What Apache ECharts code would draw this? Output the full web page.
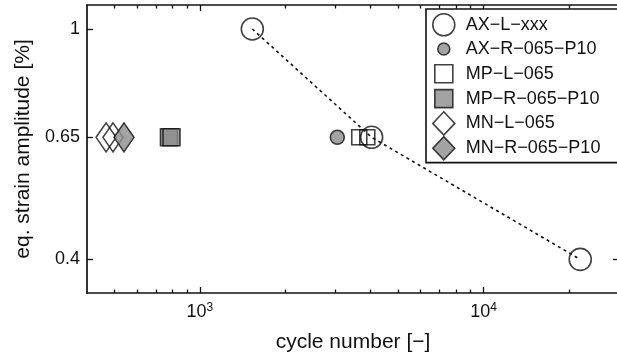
<!DOCTYPE html>
<html><head><meta charset="utf-8">
<script src="https://cdn.jsdelivr.net/npm/echarts@6/dist/echarts.min.js"></script>
<style>html,body{margin:0;padding:0;background:#fff}#c{width:617px;height:361px}</style>
</head><body><div id="c"></div>
<script>
const seriesNames = ['AX−L−xxx', 'AX−R−065−P10', 'MP−L−065', 'MP−R−065−P10', 'MN−L−065', 'MN−R−065−P10'];
const axLCycles = [1530, 4030, 21900];
const axLStrain = [1, 0.65, 0.4];
const axRCycles = [3050];
const axRStrain = [0.65];
const mpLCycles = [3645, 3890];
const mpLStrain = [0.65, 0.65];
const mpRCycles = [778, 794];
const mpRStrain = [0.65, 0.65];
const mnLCycles = [467, 494];
const mnLStrain = [0.65, 0.65];
const mnRCycles = [540];
const mnRStrain = [0.65];
const xMajorTicks = [1000, 10000];
const xMinorTicks = [500, 600, 700, 800, 900, 2000, 3000, 4000, 5000, 6000, 7000, 8000, 9000, 20000, 30000];
const yTicks = [0.4, 0.65, 1];
const xName = 'cycle number [−]';
const yName = 'eq. strain amplitude [%]';

const FONT = 'Liberation Sans';
const INK = '#111';
const TXT = '#111';
const GRAY = '#8c8c8c';
const zip = (a, b) => a.map((v, i) => [v, b[i]]);

const chart = echarts.init(document.getElementById('c'), null, {renderer: 'canvas'});
const lineAx = {show: true, onZero: false, lineStyle: {color: INK, width: 1.7}};
const noLine = {show: false, onZero: false};
const xBase = {type: 'log', logBase: 10, min: 400, max: 30000, gridIndex: 0, splitLine: {show: false}};
const yBase = {type: 'log', logBase: 10, min: 0.35, max: 1.1, gridIndex: 0, splitLine: {show: false}};
const tickStyle = {color: INK, width: 1.3};

const open = {color: 'rgba(255,255,255,0)', borderColor: INK, borderWidth: 1.6};
const filled = {color: GRAY, borderColor: INK, borderWidth: 1.6};

chart.setOption({
  animation: false,
  backgroundColor: '#fff',
  textStyle: {fontFamily: FONT},
  grid: {left: 87, top: 5, width: 532, height: 288, outerBoundsMode: 'none', containLabel: false},
  xAxis: [
    Object.assign({}, xBase, {
      position: 'bottom', axisLine: lineAx,
      axisTick: {inside: true, length: 6, lineStyle: tickStyle, customValues: xMajorTicks},
      axisLabel: {margin: 9, customValues: xMajorTicks,
        formatter: v => '{a|10}{b|' + Math.round(Math.log10(v)) + '}',
        rich: {a: {fontSize: 18, color: TXT, fontFamily: FONT, lineHeight: 20},
               b: {fontSize: 12, color: TXT, fontFamily: FONT, verticalAlign: 'top', lineHeight: 12}}},
      name: xName, nameLocation: 'middle', nameGap: 39,
      nameTextStyle: {fontSize: 21, color: TXT, fontFamily: FONT, verticalAlign: 'top'}
    }),
    Object.assign({}, xBase, {
      position: 'bottom', axisLine: noLine,
      axisTick: {inside: true, length: 3.5, lineStyle: tickStyle, customValues: xMinorTicks},
      axisLabel: {show: false}
    }),
    Object.assign({}, xBase, {
      position: 'top', axisLine: lineAx,
      axisTick: {inside: true, length: 6, lineStyle: tickStyle, customValues: xMajorTicks},
      axisLabel: {show: false}
    }),
    Object.assign({}, xBase, {
      position: 'top', axisLine: noLine,
      axisTick: {inside: true, length: 3.5, lineStyle: tickStyle, customValues: xMinorTicks},
      axisLabel: {show: false}
    })
  ],
  yAxis: [
    Object.assign({}, yBase, {
      position: 'left', axisLine: lineAx,
      axisTick: {inside: true, length: 6, lineStyle: tickStyle, customValues: yTicks},
      axisLabel: {margin: 7, fontSize: 18, color: TXT, fontFamily: FONT, customValues: yTicks,
        formatter: v => String(+v.toFixed(2))},
      name: yName, nameLocation: 'middle', nameGap: 52, nameRotate: 90,
      nameTextStyle: {fontSize: 21, color: TXT, fontFamily: FONT}
    }),
    Object.assign({}, yBase, {
      position: 'right', axisLine: lineAx,
      axisTick: {inside: true, length: 6, lineStyle: tickStyle, customValues: yTicks},
      axisLabel: {show: false}
    })
  ],
  legend: {
    orient: 'vertical', left: 426, top: 9,
    padding: [4, 19, 2, 6],
    itemWidth: 22, itemHeight: 23.2, itemGap: 0,
    backgroundColor: '#fff', borderColor: INK, borderWidth: 1.6, borderRadius: 0,
    selectedMode: false,
    textStyle: {fontSize: 18, color: TXT, fontFamily: FONT, padding: [0, 0, 0, 6]},
    itemStyle: {borderWidth: 1.6},
    data: [
      {name: seriesNames[0], icon: 'circle'},
      {name: seriesNames[1], icon: 'path://M0,0M22,23.2M5,11.6a6,6 0 1,0 12,0a6,6 0 1,0 -12,0z'},
      {name: seriesNames[2], icon: 'path://M0,0M22,23.2M2,2.6h18v18h-18z'},
      {name: seriesNames[3], icon: 'path://M0,0M22,23.2M2,2.6h18v18h-18z'},
      {name: seriesNames[4], icon: 'diamond'},
      {name: seriesNames[5], icon: 'diamond'}
    ]
  },
  series: [
    {type: 'line', xAxisIndex: 0, yAxisIndex: 0, data: zip(axLCycles, axLStrain), symbol: 'none',
     lineStyle: {color: INK, width: 1.6, type: [3, 3.5]}, z: 1, silent: true},
    {type: 'scatter', name: seriesNames[0], data: zip(axLCycles, axLStrain), symbol: 'circle', symbolSize: 22, itemStyle: open, z: 3},
    {type: 'scatter', name: seriesNames[1], data: zip(axRCycles, axRStrain), symbol: 'circle', symbolSize: 14, itemStyle: filled, z: 3},
    {type: 'scatter', name: seriesNames[2], data: zip(mpLCycles, mpLStrain), symbol: 'rect', symbolSize: 15, itemStyle: open, z: 3},
    {type: 'scatter', name: seriesNames[3], data: zip(mpRCycles, mpRStrain), symbol: 'rect', symbolSize: 17, itemStyle: filled, z: 3},
    {type: 'scatter', name: seriesNames[4], data: zip(mnLCycles, mnLStrain), symbol: 'diamond', symbolSize: [20, 29], itemStyle: open, z: 3},
    {type: 'scatter', name: seriesNames[5], data: zip(mnRCycles, mnRStrain), symbol: 'diamond', symbolSize: [20, 29], itemStyle: filled, z: 3}
  ]
});
</script>
</body></html>
